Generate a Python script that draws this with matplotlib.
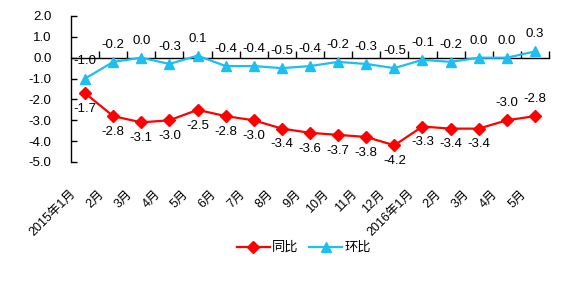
import matplotlib
matplotlib.use("Agg")
import matplotlib.pyplot as plt
import matplotlib.transforms as mtransforms

plt.rcParams['font.family'] = ['Liberation Sans', 'Noto Sans CJK SC', 'DejaVu Sans']

categories = ["2015年1月", "2月", "3月", "4月", "5月", "6月", "7月", "8月", "9月", "10月",
              "11月", "12月", "2016年1月", "2月", "3月", "4月", "5月"]
yoy = [-1.7, -2.8, -3.1, -3.0, -2.5, -2.8, -3.0, -3.4, -3.6, -3.7, -3.8, -4.2, -3.3, -3.4, -3.4, -3.0, -2.8]
mom = [-1.0, -0.2, 0.0, -0.3, 0.1, -0.4, -0.4, -0.5, -0.4, -0.2, -0.3, -0.5, -0.1, -0.2, 0.0, 0.0, 0.3]
yoy_name = "同比"
mom_name = "环比"
yticks = [2.0, 1.0, 0.0, -1.0, -2.0, -3.0, -4.0, -5.0]

RED = "#FF0000"
CYAN = "#1CBFEF"
FS = 9.5

fig = plt.figure(figsize=(5.63, 2.83), dpi=100)
ax = fig.add_axes([71/563, 1-162/283, (549-71)/563, (162-16)/283])

x = list(range(len(categories)))
ax.plot(x, yoy, color=RED, lw=1.6, marker='D', ms=6.5, label=yoy_name, zorder=3)
ax.plot(x, mom, color=CYAN, lw=1.6, marker='^', ms=7, label=mom_name, zorder=3)

ax.set_xlim(-0.5, len(categories) - 0.5)
ax.set_ylim(-5, 2)
ax.set_yticks(yticks)
ax.set_yticklabels([f"{v:.1f}" for v in yticks], fontsize=FS)
ax.tick_params(axis='y', direction='in', length=4, width=1, pad=14)

for s in ['top', 'right']:
    ax.spines[s].set_visible(False)
ax.spines['left'].set_linewidth(1)
ax.spines['bottom'].set_position(('data', 0))
ax.spines['bottom'].set_linewidth(1)
ax.set_xticks([i + 0.5 for i in range(len(categories))])
ax.set_xticklabels([])
ax.tick_params(axis='x', direction='in', length=5, width=1)

# category labels below plot area
offset = mtransforms.ScaledTranslation(-11/100, 0, fig.dpi_scale_trans)
for i, c in enumerate(categories):
    ax.text(i, -0.205, c, transform=ax.get_xaxis_transform() + offset,
            rotation=45, ha='right', va='center', rotation_mode='anchor', fontsize=9)

# data labels
for i, v in enumerate(yoy):
    if i >= len(yoy) - 2:
        ax.annotate(f"{v:.1f}", (i, v), xytext=(0, 8), textcoords='offset points',
                    ha='center', va='bottom', fontsize=FS)
    else:
        ax.annotate(f"{v:.1f}", (i, v), xytext=(0, -7), textcoords='offset points',
                    ha='center', va='top', fontsize=FS)
for i, v in enumerate(mom):
    ax.annotate(f"{v:.1f}", (i, v), xytext=(0, 8), textcoords='offset points',
                ha='center', va='bottom', fontsize=FS)

fig.legend(loc='center', bbox_to_anchor=(304/563, 1-248/283), ncol=2, frameon=False,
           fontsize=FS, handlelength=2.5, handletextpad=0.2, columnspacing=0.8, borderpad=0)

fig.savefig("out.png", dpi=100)
